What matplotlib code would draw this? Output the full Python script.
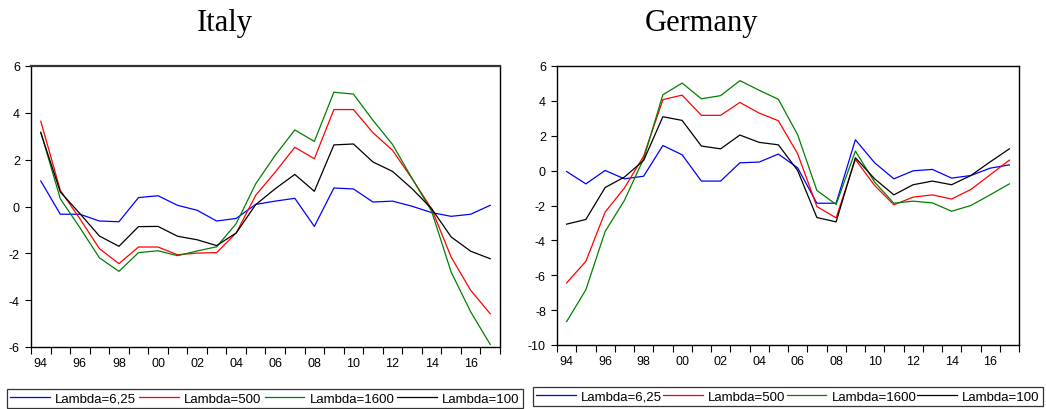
import matplotlib
matplotlib.use("Agg")
import matplotlib.pyplot as plt
import numpy as np

years = list(range(1994, 2018))
year_labels = ["94", "96", "98", "00", "02", "04", "06", "08", "10", "12", "14", "16"]
series_names = ["Lambda=6,25", "Lambda=500", "Lambda=1600", "Lambda=100"]

italy_625 = [1.09, -0.33, -0.33, -0.62, -0.65, 0.38, 0.46, 0.05, -0.16, -0.62, -0.51, 0.09,
             0.23, 0.35, -0.85, 0.79, 0.75, 0.19, 0.23, 0.01, -0.26, -0.42, -0.33, 0.05]
italy_500 = [3.64, 0.69, -0.52, -1.80, -2.44, -1.73, -1.73, -2.06, -1.99, -1.97, -1.13, 0.48,
             1.47, 2.53, 2.04, 4.14, 4.14, 3.15, 2.40, 1.19, -0.10, -2.16, -3.58, -4.58]
italy_1600 = [3.18, 0.33, -0.90, -2.19, -2.77, -1.97, -1.89, -2.10, -1.90, -1.72, -0.73, 0.97,
              2.19, 3.27, 2.78, 4.88, 4.80, 3.68, 2.65, 1.20, -0.20, -2.80, -4.50, -5.89]
italy_100 = [3.15, 0.62, -0.30, -1.26, -1.70, -0.86, -0.85, -1.27, -1.42, -1.67, -1.13, 0.08,
             0.76, 1.37, 0.65, 2.63, 2.67, 1.90, 1.50, 0.76, -0.09, -1.30, -1.91, -2.23]

germany_625 = [-0.05, -0.76, 0.01, -0.47, -0.32, 1.44, 0.91, -0.60, -0.60, 0.45, 0.49, 0.95,
               0.16, -1.87, -1.87, 1.77, 0.45, -0.47, -0.01, 0.07, -0.43, -0.28, 0.14, 0.33]
germany_500 = [-6.44, -5.20, -2.38, -1.00, 0.83, 4.07, 4.33, 3.17, 3.17, 3.91, 3.30, 2.86,
               0.97, -2.06, -2.71, 0.64, -0.85, -1.96, -1.52, -1.39, -1.63, -1.08, -0.24, 0.60]
germany_1600 = [-8.66, -6.83, -3.49, -1.71, 0.68, 4.35, 5.02, 4.12, 4.30, 5.16, 4.61, 4.09,
                2.06, -1.14, -1.94, 1.12, -0.66, -1.87, -1.75, -1.85, -2.33, -2.00, -1.39, -0.76]
germany_100 = [-3.07, -2.80, -0.97, -0.37, 0.58, 3.09, 2.88, 1.41, 1.25, 2.04, 1.62, 1.48,
               0.01, -2.69, -2.94, 0.74, -0.47, -1.39, -0.81, -0.60, -0.81, -0.28, 0.50, 1.25]

colors = ["#0000ff", "#ff0000", "#008000", "#000000"]

plt.rcParams['font.family'] = ['Liberation Sans', 'DejaVu Sans']

fig = plt.figure(figsize=(10.46, 4.10), dpi=100)

ax1 = fig.add_axes([31/1046, 1-348/410, (500-31)/1046, (348-67)/410])
ax2 = fig.add_axes([557/1046, 1-346/410, (1019-557)/1046, (346-67)/410])


def style(ax, data, yticks, ylim, title, title_x):
    for vals, c, n in zip(data, colors, series_names):
        ax.plot(years, vals, color=c, lw=0.9, label=n)
    ax.set_xlim(years[0] - 0.5, years[-1] + 0.5)
    ax.set_ylim(*ylim)
    ax.set_yticks(yticks)
    ax.set_yticklabels([str(t) for t in yticks], fontsize=9)
    ax.set_xticks(np.arange(years[0] - 0.5, years[-1] + 1.0, 1.0))
    ax.set_xticklabels([])
    ax.set_xticks(years[::2], minor=True)
    ax.set_xticklabels(year_labels, minor=True, fontsize=9)
    ax.tick_params(axis='x', which='major', direction='out', length=5, width=0.8)
    ax.tick_params(axis='x', which='minor', length=0, pad=7)
    ax.tick_params(axis='y', direction='out', length=4, width=0.8, pad=4)
    for s in ax.spines.values():
        s.set_linewidth(1.0)
    fig.text(title_x, 1 - 31/410, title, family='Liberation Serif', fontsize=22,
             ha='center', va='baseline')


style(ax1, [italy_625, italy_500, italy_1600, italy_100], [-6, -4, -2, 0, 2, 4, 6], (-6, 6),
      "Italy", 225/1046)
style(ax2, [germany_625, germany_500, germany_1600, germany_100], [-10, -8, -6, -4, -2, 0, 2, 4, 6],
      (-10, 6), "Germany", 702/1046)
ax1.spines['top'].set_linewidth(1.6)
ax1.spines['top'].set_color('#333333')

for ax, (x0, w, top) in zip([ax1, ax2], [(7/1046, 516/1046, 1-390/410), (533/1046, 510/1046, 1-388/410)]):
    h, l = ax.get_legend_handles_labels()
    leg = fig.legend(h, l, loc='upper left', bbox_to_anchor=(x0, top - 0.2, w, 0.2),
                     mode='expand', ncol=4, fontsize=9.5, frameon=True, fancybox=False,
                     edgecolor='black', handlelength=3.0, handletextpad=0.4,
                     borderpad=0.25, borderaxespad=0, columnspacing=0.6)
    leg.get_frame().set_linewidth(0.9)

fig.savefig("out.png", dpi=100)
